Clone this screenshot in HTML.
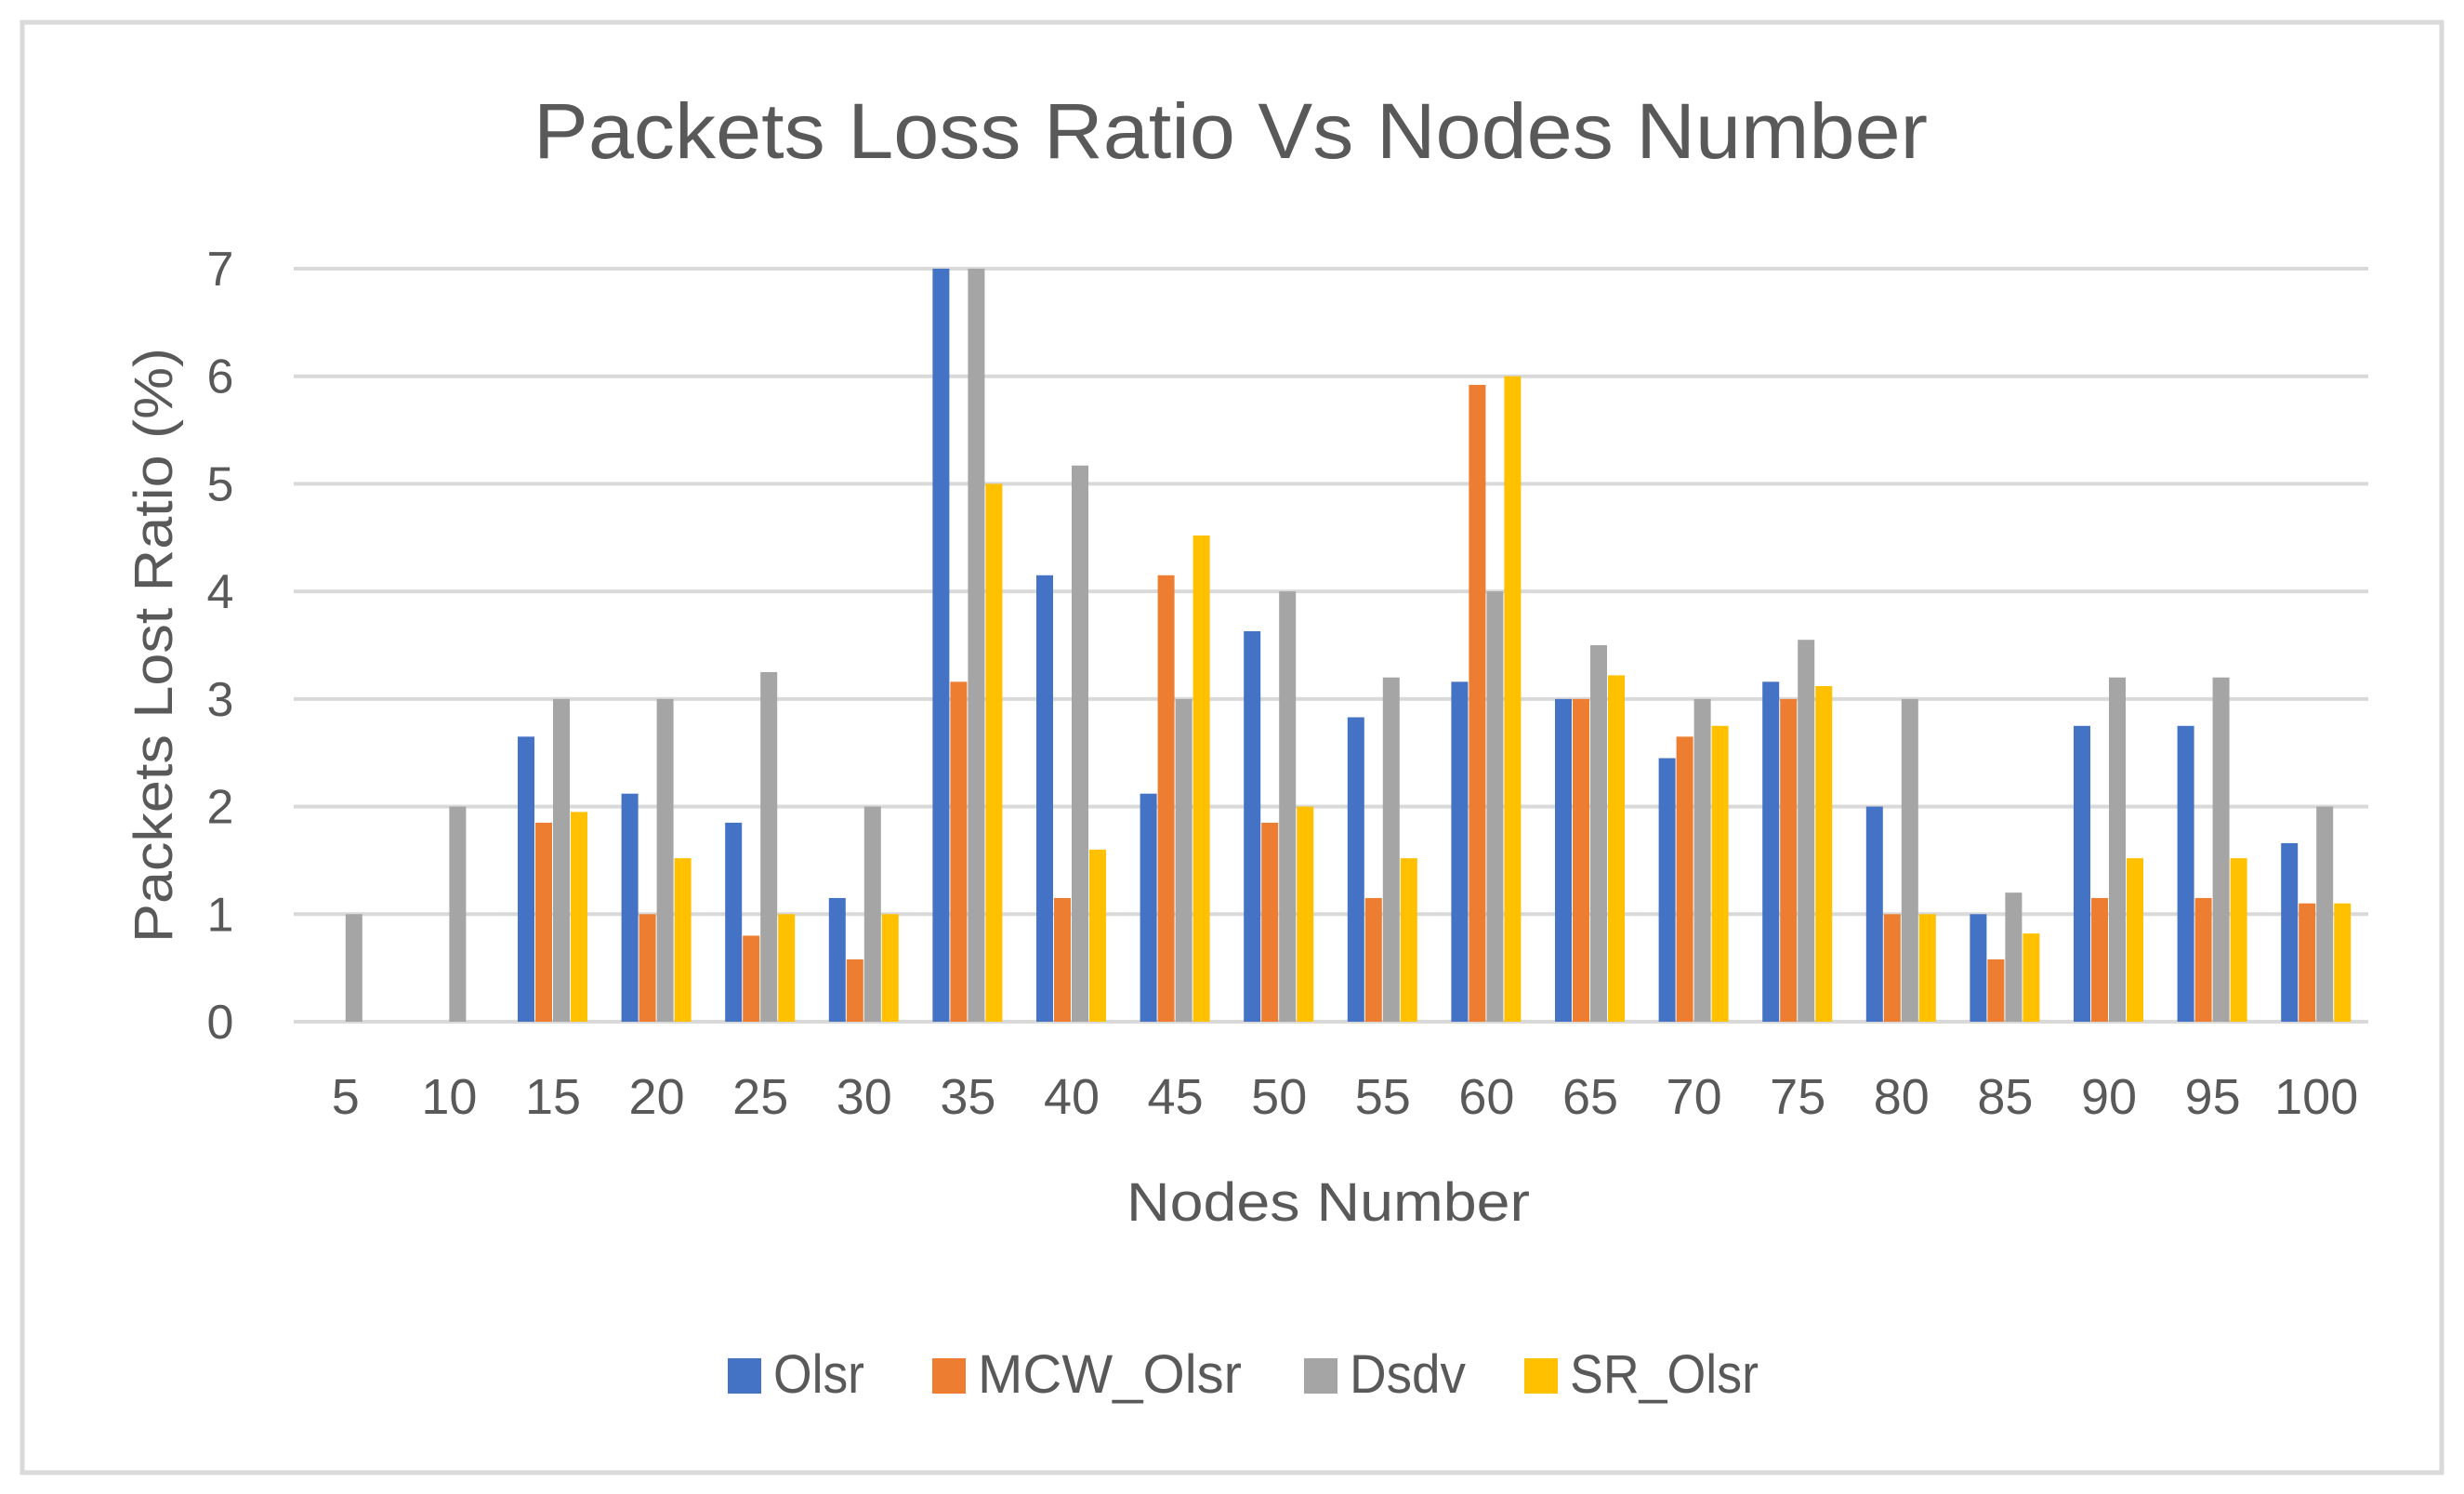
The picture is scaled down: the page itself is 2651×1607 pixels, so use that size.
<!DOCTYPE html>
<html><head><meta charset="utf-8"><style>
html,body{margin:0;padding:0;background:#fff;}
svg{display:block;}
text{font-family:"Liberation Sans",sans-serif;fill:#595959;}
</style></head><body>
<svg id="chart" width="2651" height="1607" viewBox="0 0 2651 1607" xmlns="http://www.w3.org/2000/svg">
<rect x="24" y="24" width="2603" height="1560" fill="#fff" stroke="#d9d9d9" stroke-width="5"/>
<text x="1324" y="170" font-size="84" text-anchor="middle" textLength="1500" lengthAdjust="spacingAndGlyphs">Packets Loss Ratio Vs Nodes Number</text>
<g id="grid"></g>
<g id="bars"></g>
<g id="xticks"></g>
<text x="1429" y="1313" font-size="58" text-anchor="middle" textLength="434" lengthAdjust="spacingAndGlyphs">Nodes Number</text>
<text transform="translate(185,694) rotate(-90)" font-size="58" text-anchor="middle" textLength="640" lengthAdjust="spacingAndGlyphs">Packets Lost Ratio (%)</text>
<g id="legend"></g>
</svg>
<script>
const categories=["5","10","15","20","25","30","35","40","45","50","55","60","65","70","75","80","85","90","95","100"];
const olsr=[0,0,2.65,2.12,1.85,1.15,7,4.15,2.12,3.63,2.83,3.16,3,2.45,3.16,2,1,2.75,2.75,1.66];
const mcwOlsr=[0,0,1.85,1,0.8,0.58,3.16,1.15,4.15,1.85,1.15,5.92,3,2.65,3,1,0.58,1.15,1.15,1.1];
const dsdv=[1,2,3,3,3.25,2,7,5.17,3,4,3.2,4,3.5,3,3.55,3,1.2,3.2,3.2,2];
const srOlsr=[0,0,1.95,1.52,1,1,5,1.6,4.52,2,1.52,6,3.22,2.75,3.12,1,0.82,1.52,1.52,1.1];
const yTicks=[0,1,2,3,4,5,6,7];
const seriesNames=["Olsr","MCW_Olsr","Dsdv","SR_Olsr"];
const NS="http://www.w3.org/2000/svg";
const L=316,R=2548,T=289,B=1099,YMAX=7;
const colors=["#4472c4","#ed7d31","#a5a5a5","#ffc000"];
const series=[olsr,mcwOlsr,dsdv,srOlsr];
function y(v){return B-(v/YMAX)*(B-T);}
const bw=(R-L)/categories.length;
function xc(i){return L+bw*(i+0.5);}
function mk(tag,attrs,parent){const e=document.createElementNS(NS,tag);for(const k in attrs)e.setAttribute(k,attrs[k]);parent.appendChild(e);return e;}
const grid=document.getElementById('grid');
yTicks.forEach(t=>{
  const l=mk('line',{x1:L,x2:R,y1:y(t),y2:y(t),stroke:'#d9d9d9','stroke-width':4},grid);
  
  
  const tx=mk('text',{x:237,y:y(t)+18,'font-size':52,'text-anchor':'middle'},grid);
  tx.textContent=t;
  
  
});
const bars=document.getElementById('bars');
const barW=19;
series.forEach((s,si)=>{
  s.forEach((v,i)=>{
    if(v<=0)return;
    const x=xc(i)-2*barW+si*barW;
    const r=mk('rect',{x:x,y:y(v),width:barW-1,height:B-y(v),fill:colors[si]},bars);
    
    
  });
});
const xt=document.getElementById('xticks');
categories.forEach((c,i)=>{
  const t=mk('text',{x:xc(i),y:1198,'font-size':54,'text-anchor':'middle'},xt);
  t.textContent=c;
  
  
});
const lg=document.getElementById('legend');
const lx=[783,1003,1403,1640];
const tw=[98,284,125,203];
seriesNames.forEach((n,i)=>{
  const r=mk('rect',{x:lx[i],y:1461,width:36,height:38,fill:colors[i]},lg);
  
  
  const t=mk('text',{x:lx[i]+49,y:1498,'font-size':58,textLength:tw[i],lengthAdjust:'spacingAndGlyphs'},lg);
  t.textContent=n;
  
  
});
</script>
</body></html>
